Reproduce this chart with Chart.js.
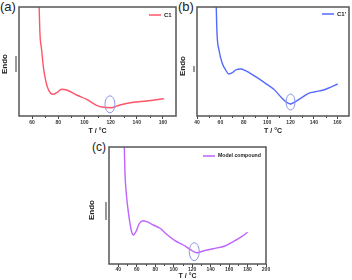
<!DOCTYPE html>
<html>
<head>
<meta charset="utf-8">
<script src="https://cdn.jsdelivr.net/npm/chart.js@4/dist/chart.umd.min.js"></script>
<style>
  body { margin: 0; background: #fff; width: 352px; height: 280px; position: relative; overflow: hidden; }
  .box { position: absolute; }
  .lbl { position: absolute; font-family: "Liberation Sans", Arial, sans-serif; color: #222; }
</style>
</head>
<body>
<div class="lbl" style="left:0px;top:-1px;font-size:13px;">(a)</div>
<div class="lbl" style="left:178px;top:-1px;font-size:13px;">(b)</div>
<div class="lbl" style="left:92px;top:140px;font-size:12px;">(c)</div>
<div class="box" style="left:0px;top:0px;width:178px;height:135px;"><canvas id="chartA"></canvas></div>
<div class="box" style="left:176px;top:0px;width:176px;height:135px;"><canvas id="chartB"></canvas></div>
<div class="box" style="left:60px;top:140px;width:220px;height:140px;"><canvas id="chartC"></canvas></div>
<script>
// (a) C1
var tempA = [65.3, 66.0, 67.3, 68.6, 69.8, 71.6, 74.2, 76.2, 78.8, 82.6, 86.4, 94, 101.7, 109.3, 114.4, 120.7, 127.1, 137.3, 147.4, 160.7];
var flowA = [114, 82.7, 66, 49.3, 39.3, 29.3, 22.7, 21.7, 23.3, 26.7, 26, 21, 16.7, 10.7, 8.7, 8.3, 11, 13.7, 15, 17.3];
var ticksA = [60, 80, 100, 120, 140, 160];
var markA = [119.5, 11.7];

// (b) C1'
var tempB = [56.4, 57.1, 58.8, 61.6, 64.5, 67.3, 70.2, 73, 77.3, 81.5, 90.1, 98.6, 105.7, 112.8, 117.1, 120, 124.2, 129.9, 135.5, 141.2, 148.3, 154, 160.3];
var flowB = [112, 82.7, 66, 52.7, 46, 42, 43.3, 46, 47, 45.3, 39.3, 32.7, 26.7, 17.7, 13.3, 12, 14.3, 18.7, 22.7, 24.3, 26, 28.7, 32];
var ticksB = [40, 60, 80, 100, 120, 140, 160];
var markB = [120, 14];

// (c) Model compound
var tempC = [46.5, 47.3, 48.4, 50.2, 52.7, 54.5, 56.3, 59.2, 62.5, 66.5, 70.8, 78, 85.2, 92.4, 101.4, 110.4, 117.7, 124.9, 132.1, 142.9, 155.5, 164.5, 173.6, 180.1];
var flowC = [120, 90.7, 74, 57.3, 40.7, 32.3, 29, 32.3, 40, 43.3, 42.3, 39, 35.7, 29.7, 23.3, 19, 14.7, 11.3, 13, 15.3, 18, 22.3, 27.3, 31.7];
var ticksC = [40, 60, 80, 100, 120, 140, 160, 180, 200];
var markC = [122.3, 12.3];

const FONT = "'Liberation Sans', Arial, sans-serif";

const framePlugin = {
  id: 'frame',
  afterDatasetsDraw(chart, args, opts) {
    const ctx = chart.ctx;
    const a = chart.chartArea;
    const xs = chart.scales.x, ys = chart.scales.y;
    const ds = chart.data.datasets[0];
    ctx.save();
    // minor ticks
    ctx.strokeStyle = '#444';
    ctx.lineWidth = 1;
    opts.minor.forEach(function (v) {
      const px = Math.round(xs.getPixelForValue(v)) + 0.5;
      ctx.beginPath(); ctx.moveTo(px, a.bottom); ctx.lineTo(px, a.bottom + 2); ctx.stroke();
    });
    // frame
    ctx.strokeStyle = '#555';
    ctx.lineWidth = 1.5;
    ctx.strokeRect(a.left, a.top, a.right - a.left, a.bottom - a.top);
    // marker ellipse
    ctx.strokeStyle = '#8a96e6';
    ctx.lineWidth = 1;
    ctx.beginPath();
    ctx.ellipse(xs.getPixelForValue(opts.mark[0]), ys.getPixelForValue(opts.mark[1]), opts.rx, opts.ry, 0, 0, Math.PI * 2);
    ctx.stroke();
    // legend
    const ly = a.top + opts.legY;
    const lx = a.right - opts.legX;
    ctx.strokeStyle = ds.borderColor;
    ctx.lineWidth = 1.5;
    ctx.beginPath(); ctx.moveTo(lx, ly); ctx.lineTo(lx + 12, ly); ctx.stroke();
    ctx.fillStyle = '#222';
    ctx.font = 'bold ' + opts.legSize + 'px ' + FONT;
    ctx.textAlign = 'left';
    ctx.textBaseline = 'middle';
    ctx.fillText(ds.label, lx + 15, ly);
    // y title and arrow
    ctx.font = 'bold 8px ' + FONT;
    ctx.textAlign = 'center';
    ctx.translate(opts.endoX, opts.endoY);
    ctx.rotate(-Math.PI / 2);
    ctx.fillText('Endo', 0, 0);
    ctx.restore();
    ctx.save();
    ctx.strokeStyle = '#777';
    ctx.lineWidth = 1.5;
    ctx.beginPath(); ctx.moveTo(opts.arrowX, opts.arrowTop); ctx.lineTo(opts.arrowX, opts.arrowBottom); ctx.stroke();
    ctx.restore();
  }
};

function makeChart(id, name, color, temps, flows, ticks, minX, maxX, maxY, pad, axisH, tickPad, frame) {
  const minor = [];
  for (let i = 0; i < ticks.length; i++) {
    if (ticks[i] + 10 < maxX) minor.push(ticks[i] + 10);
  }
  if (ticks[0] - 10 > minX) minor.push(ticks[0] - 10);
  frame.minor = minor;
  return new Chart(document.getElementById(id), {
    type: 'line',
    data: {
      datasets: [{
        label: name,
        data: temps.map(function (t, i) { return { x: t, y: flows[i] }; }),
        borderColor: color,
        backgroundColor: color,
        borderWidth: 1.4,
        pointRadius: 0,
        cubicInterpolationMode: 'monotone',
        fill: false
      }]
    },
    options: {
      responsive: true,
      maintainAspectRatio: false,
      animation: false,
      layout: { padding: pad },
      plugins: {
        legend: { display: false },
        tooltip: { enabled: false },
        frame: frame
      },
      scales: {
        x: {
          type: 'linear',
          min: minX,
          max: maxX,
          afterBuildTicks: function (scale) { scale.ticks = ticks.map(function (v) { return { value: v }; }); },
          afterFit: function (scale) { scale.height = axisH; },
          grid: { drawOnChartArea: false, drawTicks: true, tickLength: 3, color: '#444' },
          border: { display: false },
          ticks: { padding: tickPad, maxRotation: 0, color: '#333', font: { family: FONT, size: 5, weight: 'bold' } },
          title: { display: true, text: 'T / °C', color: '#222', padding: 0, font: { family: FONT, size: 7, weight: 'bold' } }
        },
        y: { display: false, min: 0, max: maxY }
      }
    },
    plugins: [framePlugin]
  });
}

makeChart('chartA', 'C1', 'rgb(255,85,105)', tempA, flowA, ticksA, 50, 170, 109,
  { left: 19, top: 7, right: 2, bottom: 0 }, 19, 1,
  { mark: markA, rx: 5, ry: 8.5, endoX: 5, endoY: 64, arrowX: 16, arrowTop: 56, arrowBottom: 72, legX: 27, legY: 8, legSize: 6 });
makeChart('chartB', "C1'", 'rgb(85,105,255)', tempB, flowB, ticksB, 40, 170, 109,
  { left: 21, top: 7, right: 3, bottom: 0 }, 19, 1,
  { mark: markB, rx: 4.5, ry: 8, endoX: 7, endoY: 66, arrowX: 18, arrowTop: 66, arrowBottom: 72, legX: 27, legY: 7, legSize: 6 });
makeChart('chartC', 'Model compound', 'rgb(190,100,255)', tempC, flowC, ticksC, 30, 200, 117,
  { left: 49, top: 7, right: 14, bottom: 0 }, 16, 0,
  { mark: markC, rx: 5, ry: 9, endoX: 32, endoY: 70, arrowX: 46, arrowTop: 62, arrowBottom: 80, legX: 63, legY: 9, legSize: 5.2 });
</script>
</body>
</html>
